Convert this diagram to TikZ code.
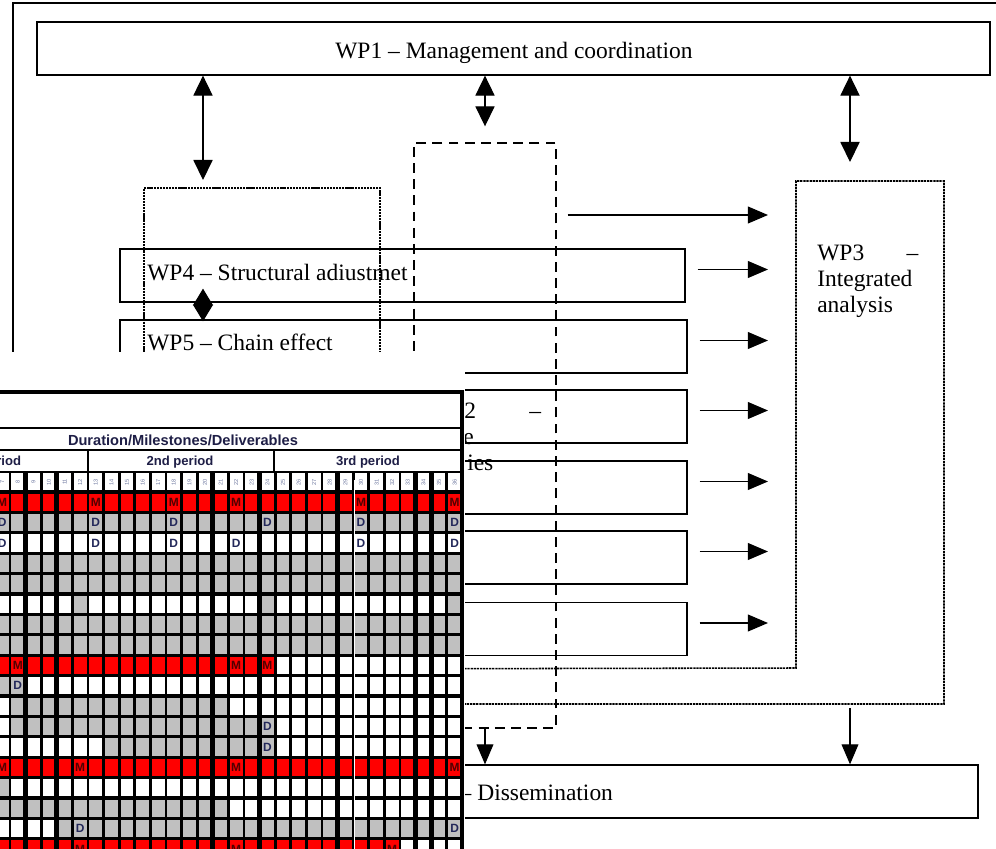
\documentclass[tikz,border=0pt]{standalone}
\usepackage{fontspec}
\setmainfont{Liberation Serif}
\setsansfont{Liberation Sans}
\usetikzlibrary{arrows.meta,positioning}

\definecolor{cellgrey}{RGB}{192,192,192}
\definecolor{mstone}{RGB}{80,0,0}
\definecolor{dlv}{RGB}{35,40,90}
\definecolor{gantttxt}{RGB}{30,30,70}
\definecolor{monthtxt}{RGB}{110,120,160}
\newcommand{\wpfont}{\fontsize{16.7}{18.5}\selectfont}
\newcommand{\ganttfont}{\sffamily\bfseries\fontsize{10.4}{12}\selectfont}
\newcommand{\periodfont}{\sffamily\bfseries\fontsize{9.3}{11}\selectfont}

\tikzset{
  wpbox/.style={draw, line width=0.9pt, inner sep=0pt, minimum height=1.325cm},
  wptext/.style={font=\wpfont, inner sep=0pt},
  grpdash/.style={draw, line width=0.9pt, dash pattern=on 7pt off 4.5pt, inner sep=0pt},
  grpdot/.style={line width=1.1pt, dash pattern=on 1.6pt off 0.6pt},
  flow/.style={-{Triangle[length=0.5cm,width=0.42cm]}, line width=0.8pt},
  twoway/.style={{Triangle[length=0.5cm,width=0.48cm]}-{Triangle[length=0.5cm,width=0.48cm]}, line width=0.8pt},
  kissing/.style={{Triangle[length=0.42cm,width=0.5cm]}-{Triangle[length=0.42cm,width=0.5cm]}, line width=0.8pt},
  gridln/.style={line width=2pt},
  cellmark/.style={font=\sffamily\bfseries\fontsize{8.5}{9}\selectfont, inner sep=0pt},
}

\begin{document}
\begin{tikzpicture}[x=0.025cm, y=-0.025cm]
\useasboundingbox (0,0) rectangle (996,849);

% outer frame
\draw[line width=0.9pt] (13,860) -- (13,3) -- (1000,3);

% work packages
\node[wpbox, minimum width=23.825cm] (wp1) at (513.5,48.5) {};
\node[wptext, anchor=base] (wp1lbl) at (514,58) {WP1 – Management and coordination};
\node[wpbox, minimum width=14.125cm] (wp4) at (402.5,275.5) {};
\node[wptext, anchor=base west] (wp4lbl) at (147,280) {WP4 – Structural adiustmet};
\node[wpbox, minimum width=14.175cm] (wp5) at (403.5,346.5) {};
\node[wptext, anchor=base west] (wp5lbl) at (147,350) {WP5 – Chain effect};
\node[wpbox, minimum width=14.175cm] (wp2) at (403.5,416.5) {};
\node[wpbox, minimum width=14.175cm] (wp6) at (403.5,487.5) {};
\node[wpbox, minimum width=14.175cm] (wp7) at (403.5,557.5) {};
\node[wpbox, minimum width=14.175cm] (wp8) at (403.5,629) {};
\node[wpbox, minimum width=21.45cm] (wp9) at (549,791.5) {};
\node[wptext, anchor=base west] (wp9lbl) at (459.4,800) {– Dissemination};

% WP2 label (partly covered)
\node[wptext, anchor=base west] (wp2a) at (464,418) {2};
\node[wptext, anchor=base west] (wp2b) at (529,418) {–};
\node[wptext, anchor=base east] (wp2c) at (474,444) {e};
\node[wptext, anchor=base west] (wp2d) at (467,470) {ies};

% groups
\node[grpdash, minimum width=3.55cm, minimum height=14.625cm] (dashbox) at (485,435.5) {};
\node[draw, grpdot, minimum width=5.9cm, minimum height=12cm, inner sep=0pt] (grpA) at (262,428) {};
\draw[grpdot] (grpA.south east) -- (796,668) -- (796,181) -- (944,181) -- (944,704) -- (144,704);
\node[wptext, text width=2.525cm, align=left, anchor=base west] (wp3) at (817,260) {WP3\hfill –\\Integrated\\analysis};

% links
\coordinate (wp1foot) at (203,180);
\coordinate (wp3head) at (850,162);
\coordinate (wp3in) at (768,215);
\coordinate (wp3foot) at (850,708);
\draw[twoway] (wp1.south -| wp1foot) -- (wp1foot);
\draw[twoway] (wp1.south -| dashbox.north) -- ([yshift=0.4cm]dashbox.north);
\draw[twoway] (wp1.south -| wp3head) -- (wp3head);
\draw[kissing] ([yshift=0.35cm]wp4.south -| wp1foot) -- ([yshift=-0.05cm]wp5.north -| wp1foot);
\draw[flow] ([xshift=0.275cm]dashbox.east |- wp3in) -- (wp3in);
\foreach \wp in {wp4,wp5,wp2,wp6,wp7,wp8}
  \draw[flow] ([xshift=0.3cm,yshift=0.15cm]\wp.east) -- ([yshift=0.15cm]\wp.east -| wp3in);
\draw[flow] (dashbox.south) -- (dashbox.south |- wp9.north);
\draw[flow] (wp3foot) -- (wp3foot |- wp9.north);

% gantt chart laid over
\fill[white] (-10,352) rectangle (465,860);
\foreach \r/\segs in {
  0/{-1/28/red},
  1/{-1/28/cellgrey},
  2/{-1/28/white},
  3/{-1/28/cellgrey},
  4/{-1/28/cellgrey},
  5/{-1/3/white, 4/4/cellgrey, 5/15/white, 16/16/cellgrey, 17/27/white, 28/28/cellgrey},
  6/{-1/28/cellgrey},
  7/{-1/28/cellgrey},
  8/{-1/16/red, 17/28/white},
  9/{-1/0/cellgrey, 1/28/white},
  10/{-1/-1/white, 0/13/cellgrey, 14/28/white},
  11/{-1/-1/white, 0/16/cellgrey, 17/28/white},
  12/{-1/5/white, 6/16/cellgrey, 17/28/white},
  13/{-1/28/red},
  14/{-1/-1/cellgrey, 0/28/white},
  15/{-1/13/cellgrey, 14/28/white},
  16/{-1/2/white, 3/28/cellgrey},
  17/{-1/24/red, 25/28/white}}
{
  \foreach \a/\b/\c in \segs
    \fill[\c] ({10+15.6*(\a)},{492+20.4*\r}) rectangle ({10+15.6*(\b+1)},{492+20.4*(\r+1)});
}
\foreach \k in {-1,...,29}
  \draw[gridln] ({10+15.6*\k},472) -- ({10+15.6*\k},860);
\foreach \k in {1,3,13,16,21,26,27}
  \draw[line width=3.4pt] ({10+15.6*\k},472) -- ({10+15.6*\k},860);
\foreach \r in {0,...,18}
  \draw[line width=2.4pt] (-10,{492+20.4*\r}) -- (462,{492+20.4*\r});
\draw[white, line width=0.7pt] (354,480) -- (354,860);
\draw[gridln] (-10,472) -- (462,472);
\draw[line width=2pt] (-10,428) -- (462,428);
\draw[line width=2pt] (-10,450) -- (462,450);
\draw[line width=1pt] (88,450) -- (88,472);
\draw[line width=1pt] (274,450) -- (274,472);
\draw[line width=2.6pt] (-10,392) -- (462,392) -- (462,860);

\node[font=\ganttfont, text=gantttxt] (gantttitle) at (183,440) {Duration/Milestones/Deliverables};
\node[font=\periodfont, text=gantttxt, anchor=east] (per1) at (26,462) {1st period};
\node[font=\periodfont, text=gantttxt] (per2) at (180,462) {2nd period};
\node[font=\periodfont, text=gantttxt] (per3) at (368,462) {3rd period};
\foreach \k [evaluate=\k as \m using int(\k+8)] in {-1,...,28}
  \node[font=\sffamily\fontsize{4}{4}\selectfont, text=monthtxt, rotate=90, inner sep=0pt] at ({10+15.6*(\k+0.5)},482) {\m};

\foreach \r/\c/\t in {0/-1/M,0/5/M,0/10/M,0/14/M,0/22/M,0/28/M,
    8/0/M,8/14/M,8/16/M,13/-1/M,13/4/M,13/14/M,13/28/M,17/4/M,17/14/M,17/24/M}
  \node[cellmark, text=mstone] at ({10+15.6*(\c+0.5)},{492+20.4*(\r+0.5)}) {\t};
\foreach \r/\c/\t in {1/-1/D,1/5/D,1/10/D,1/16/D,1/22/D,1/28/D,
    2/-1/D,2/5/D,2/10/D,2/14/D,2/22/D,2/28/D,
    9/0/D,11/16/D,12/16/D,16/4/D,16/28/D}
  \node[cellmark, text=dlv] at ({10+15.6*(\c+0.5)},{492+20.4*(\r+0.5)}) {\t};
\end{tikzpicture}
\end{document}
